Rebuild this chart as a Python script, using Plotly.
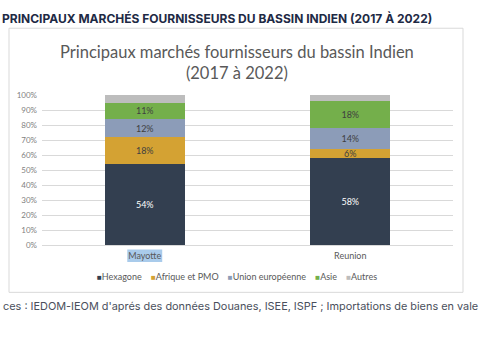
import plotly.graph_objects as go

categories = ["Mayotte", "Reunion"]
series_names = ["Hexagone", "Afrique et PMO", "Union européenne", "Asie", "Autres"]
hexagone = [0.54, 0.58]
afrique_pmo = [0.18, 0.06]
union_europeenne = [0.12, 0.14]
asie = [0.11, 0.18]
autres = [0.05, 0.04]
y_ticks = [0, 0.1, 0.2, 0.3, 0.4, 0.5, 0.6, 0.7, 0.8, 0.9, 1.0]

colors = ["#333F50", "#D4A233", "#8C9CB8", "#74AF4B", "#BDBDBD"]
label_colors = ["#FFFFFF", "#404040", "#404040", "#404040", "#404040"]
show_labels = [True, True, True, True, False]

W, H = 485, 360
L, R, T, B = 42, 453, 95, 245.5


def px(x):
    return (x - L) / (R - L)


def py(y):
    return (B - y) / (B - T)


FONT = "Lato, 'Open Sans', sans-serif"

fig = go.Figure()
for name, vals, col, lc, sl in zip(series_names,
                                   [hexagone, afrique_pmo, union_europeenne, asie, autres],
                                   colors, label_colors, show_labels):
    fig.add_trace(go.Bar(
        x=categories, y=vals, name=name, marker=dict(color=col, line=dict(width=0)),
        text=[f"{round(v*100)}%" for v in vals] if sl else None,
        textposition="inside", insidetextanchor="middle",
        textfont=dict(color=lc, size=9, family=FONT),
        constraintext="none",
        hoverinfo="skip",
        showlegend=False,
    ))

fig.update_layout(
    width=W, height=H,
    barmode="stack", bargap=0.61,
    margin=dict(l=L, r=W - R, t=T, b=H - B, pad=0, autoexpand=False),
    paper_bgcolor="white", plot_bgcolor="white",
    font=dict(family=FONT, color="#595959", size=9),
    uniformtext=dict(minsize=7, mode="show"),
    showlegend=False,
    xaxis=dict(range=[-0.5, 1.5], showgrid=False, showline=False, ticks="",
               tickfont=dict(size=9, color="#595959", family=FONT), ticklabelstandoff=4,
               fixedrange=True, automargin=False),
    yaxis=dict(range=[0, 1.0], tickvals=y_ticks, tickformat=".0%", showgrid=True,
               gridcolor="#D9D9D9", gridwidth=1, zeroline=True, zerolinecolor="#D9D9D9",
               zerolinewidth=1, showline=False, ticks="",
               tickfont=dict(size=8, color="#7F7F7F", family=FONT), ticklabelstandoff=4,
               fixedrange=True, automargin=False),
)

# chart frame
fig.add_shape(type="rect", xref="paper", yref="paper",
              x0=px(9), x1=px(463), y0=py(293), y1=py(28),
              line=dict(color="#D9D9D9", width=1), fillcolor="rgba(0,0,0,0)", layer="below")
# highlight behind "Mayotte" label
fig.add_shape(type="rect", xref="x", yref="paper",
              x0=-0.085, x1=0.085, y0=py(262.5), y1=py(250),
              line=dict(width=0), fillcolor="#A9CBEB", layer="below")

# legend (drawn as a single row of text with coloured squares)
gap = "&nbsp;" * 4
legend_text = gap.join(
    f"<span style='color:{c};font-size:8px'>■</span>{n}" for n, c in zip(series_names, colors)
)
fig.add_annotation(text=legend_text, xref="paper", yref="paper", x=px(237), y=py(277),
                   xanchor="center", yanchor="middle", showarrow=False,
                   font=dict(family=FONT, size=9, color="#595959"))

# page heading
fig.add_annotation(text="<b>PRINCIPAUX MARCHÉS FOURNISSEURS DU BASSIN INDIEN (2017 À 2022)</b>",
                   xref="paper", yref="paper", x=px(0), y=py(18), xanchor="left", yanchor="middle",
                   showarrow=False, font=dict(family="Inter, Roboto, sans-serif", size=12, color="#1E2A45"))
# chart title
fig.add_annotation(text="Principaux marchés fournisseurs du bassin Indien<br>(2017 à 2022)",
                   xref="paper", yref="paper", x=px(237), y=py(62), xanchor="center", yanchor="middle",
                   showarrow=False, align="center",
                   font=dict(family=FONT, size=16.5, color="#595959"))
# source
fig.add_annotation(text="ces : IEDOM-IEOM d'aprés des données Douanes, ISEE, ISPF ; Importations de biens en vale",
                   xref="paper", yref="paper", x=px(1), y=py(307), xanchor="left", yanchor="middle",
                   showarrow=False, font=dict(family="Inter, Roboto, sans-serif", size=10.9, color="#4A4F5C"))

fig.write_html("out.html", config={"displayModeBar": False},
               post_script="document.body.style.margin='0';")
